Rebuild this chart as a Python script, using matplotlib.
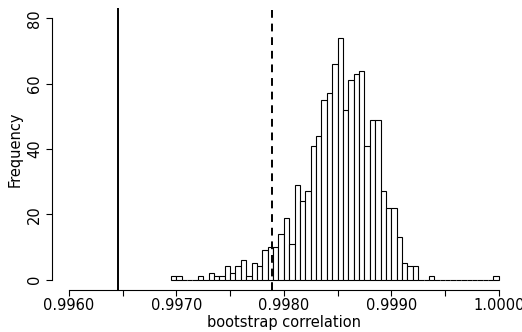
import numpy as np
import matplotlib
matplotlib.use("Agg")
from matplotlib import pyplot as plt

# histogram of bootstrap correlations (bins of width 0.00005)
bin_start = 0.99695
bin_width = 0.00005
counts = [1, 1, 0, 0, 0, 1, 0, 2, 1, 1,
          4, 2, 4, 6, 1, 5, 4, 9, 10, 10,
          14, 19, 11, 29, 24, 27, 41, 44, 55, 57,
          66, 74, 52, 61, 63, 64, 41, 49, 49, 27,
          22, 22, 13, 5, 4, 4, 0, 0, 1, 0,
          0, 0, 0, 0, 0, 0, 0, 0, 0, 0,
          1]

observed = 0.99646      # solid line
boot_mean = 0.99789     # dashed line

x_major = [0.996, 0.997, 0.998, 0.999, 1.000]
x_major_labels = ["0.9960", "0.9970", "0.9980", "0.9990", "1.0000"]
x_minor = [0.9965, 0.9975, 0.9985, 0.9995]
y_ticks = [0, 20, 40, 60, 80]

plt.rcParams['font.family'] = ['DejaVu Sans']

fig = plt.figure(figsize=(5.22, 3.32), dpi=100)
ax = fig.add_axes([0.099, 0.1265, 0.8895, 0.8495])

edges = bin_start + bin_width * np.arange(len(counts))
ax.bar(edges, counts, width=bin_width, align='edge',
       color='white', edgecolor='black', linewidth=0.8)

ax.axvline(observed, color='black', linewidth=1.4)
ax.axvline(boot_mean, color='black', linewidth=1.4, linestyle=(0, (4, 3)))

ax.set_xlim(0.99584, 1.00016)
ax.set_ylim(-3.2, 83.2)

for s in ['top', 'right']:
    ax.spines[s].set_visible(False)
ax.spines['bottom'].set_bounds(0.996, 1.0)
ax.spines['left'].set_bounds(0, 80)
ax.spines['bottom'].set_linewidth(0.8)
ax.spines['left'].set_linewidth(0.8)

ax.set_xticks(x_major)
ax.set_xticklabels(x_major_labels)
ax.set_xticks(x_minor, minor=True)
ax.set_yticks(y_ticks)
ax.set_yticklabels([str(v) for v in y_ticks], rotation=90, va='center')

ax.tick_params(axis='both', which='both', length=4, width=0.8,
               labelsize=10.5, pad=2)
ax.tick_params(axis='y', pad=3)

ax.set_xlabel("bootstrap correlation", fontsize=10.5, labelpad=1)
ax.set_ylabel("Frequency", fontsize=10.5, labelpad=3)

fig.savefig("out.png", dpi=100)
